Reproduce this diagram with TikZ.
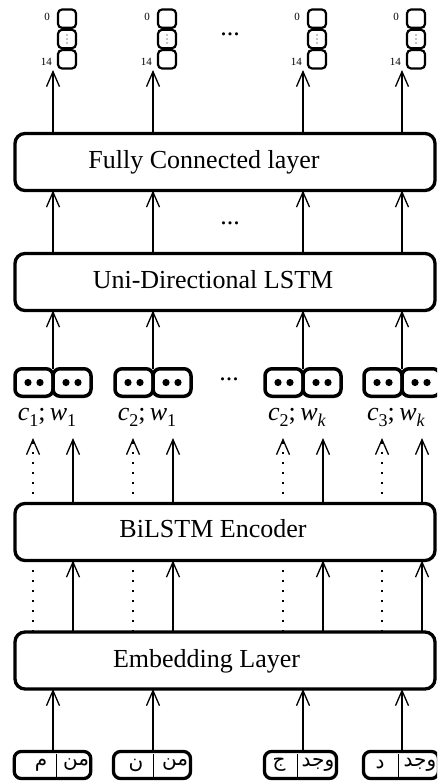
\documentclass[tikz,border=0pt]{standalone}
\usepackage{fontspec}
\setmainfont{Liberation Serif}
\newfontfamily\arabicfont[Script=Arabic]{DejaVu Sans}
\TeXXeTstate=1
\usetikzlibrary{arrows.meta}
\newcommand{\lowsub}[1]{\raisebox{-0.25em}{\fontsize{18}{20}\selectfont #1}}
\tikzset{
  layer/.style={draw, line width=3.3pt, rounded corners=10pt, minimum width=420pt, minimum height=57pt, inner sep=0pt, outer sep=0pt},
  layertext/.style={anchor=base, inner sep=0pt, font=\fontsize{26}{30}\selectfont},
  obox/.style={draw, line width=2.2pt, rounded corners=4pt, minimum width=18pt, minimum height=18.3pt, inner sep=0pt, outer sep=0pt},
  olabel/.style={anchor=east, inner sep=0pt, font=\fontsize{11}{13}\selectfont},
  pbox/.style={draw, line width=3.5pt, rounded corners=7pt, minimum width=38pt, minimum height=27.5pt, inner sep=0pt, outer sep=0pt},
  ibox/.style={draw, line width=3.3pt, rounded corners=7pt, minimum height=27pt, inner sep=0pt, outer sep=0pt},
  itext/.style={inner sep=0pt, font=\arabicfont\fontsize{20}{22}\selectfont},
  cwlabel/.style={anchor=base, inner sep=0pt, font=\fontsize{26}{30}\selectfont},
  arr/.style={line width=1.3pt, -{Straight Barb[length=15pt,width=13pt,line width=1.3pt]}},
  dotarr/.style={line width=1.8pt, dash pattern=on 2pt off 8pt, -{Straight Barb[length=15pt,width=13pt,line width=1.3pt]}},
  dotline/.style={line width=1.8pt, dash pattern=on 2pt off 8pt},
  divider/.style={line width=0.8pt},
  ell/.style={inner sep=0pt, font=\fontsize{26}{30}\selectfont}
}
\begin{document}
\begin{tikzpicture}[x=1pt,y=-1pt]
\clip (0,0) rectangle (437,784);
% layers
\node[layer] (fc) at (225,162) {};
\node[layertext] (fct) at (204,168) {Fully Connected layer};
\node[layer] (lstm) at (225,282) {};
\node[layertext] (lstmt) at (213,288.5) {Uni-Directional LSTM};
\node[layer] (bil) at (225,532) {};
\node[layertext] (bilt) at (213,537) {BiLSTM Encoder};
\node[layer] (emb) at (225,660.5) {};
\node[layertext] (embt) at (206.5,667) {Embedding Layer};
% ellipses
\node[ell] (e1) at (230,34) {...};
\node[ell] (e2) at (230,223) {...};
\node[ell] (e3) at (229,379) {...};
% columns
\foreach \n/\c/\cl in {A/53/{\textit{c}\lowsub{1};\,\textit{w}\lowsub{1}},B/153/{\textit{c}\lowsub{2};\,\textit{w}\lowsub{1}},C/303/{\textit{c}\lowsub{2};\,\textit{w}\lowsub{\textit{k}}},D/402/{\textit{c}\lowsub{3};\,\textit{w}\lowsub{\textit{k}}}}{
  \coordinate (col\n) at (\c,0);
  \coordinate (L\n) at (\c-20,0);
  \coordinate (R\n) at (\c+20,0);
  % output vector
  \node[obox] (o\n1) at (\c+14,18.7) {};
  \node[obox] (o\n2) at (\c+14,39) {};
  \node[obox] (o\n3) at (\c+14,59.3) {};
  \foreach \dy in {-4,0,4} \fill (o\n2.center) ++(0,\dy) circle[radius=0.6pt];
  \node[olabel] (z\n) at (\c-3,16.7) {0};
  \node[olabel] (f\n) at (\c-1,61.5) {14};
  \coordinate (t\n) at (\c,70);
  \draw[arr] (fc.north -| col\n) -- (t\n);
  \draw[arr] (lstm.north -| col\n) -- (fc.south -| col\n);
  % pair
  \node[pbox] (pL\n) at (\c-19,382.5) {};
  \node[pbox] (pR\n) at (\c+19,382.5) {};
  \fill (pL\n.center) ++(-6,0) circle[radius=3.6pt] ++(12,0) circle[radius=3.6pt];
  \fill (pR\n.center) ++(-6,0) circle[radius=3.6pt] ++(12,0) circle[radius=3.6pt];
  \draw[arr] (pL\n.north east) -- (lstm.south -| col\n);
  \node[cwlabel] (cw\n) at (\c-6,420) {\cl};
  % bilstm arrows
  \coordinate (ta\n) at (\c+20,438);
  \coordinate (td\n) at (\c-20,438);
  \draw[arr] (bil.north -| R\n) -- (ta\n);
  \draw[dotarr] (bil.north -| L\n) -- (td\n);
  \draw[arr] (emb.north -| R\n) -- (bil.south -| R\n);
  \draw[dotline] (emb.north -| L\n) -- (bil.south -| L\n);
}
% inputs
\node[ibox, minimum width=76.5pt] (in1) at (52.5,765) {};
\node[ibox, minimum width=77pt] (in2) at (152,765) {};
\node[ibox, minimum width=72pt] (in3) at (300.5,765) {};
\node[ibox, minimum width=75pt] (in4) at (401,765) {};
\draw[divider] (56,754) -- (56,777);
\draw[divider] (153,754) -- (153,777);
\draw[divider] (297,754) -- (297,777);
\draw[divider] (398,754) -- (398,777);
\node[itext] (a1) at (41,765) {\beginR م\endR};
\node[itext] (b1) at (76,765) {\beginR من\endR};
\node[itext] (a2) at (136,765) {\beginR ن\endR};
\node[itext] (b2) at (175,765) {\beginR من\endR};
\node[itext] (a3) at (279,765) {\beginR ج\endR};
\node[itext] (b3) at (318,765) {\beginR وجد\endR};
\node[itext] (a4) at (380,765) {\beginR د\endR};
\node[itext] (b4) at (420,765) {\beginR وجد\endR};
\draw[arr] (in1.north -| colA) -- (emb.south -| colA);
\draw[arr] (in2.north -| colB) -- (emb.south -| colB);
\draw[arr] (in3.north -| colC) -- (emb.south -| colC);
\draw[arr] (in4.north -| colD) -- (emb.south -| colD);
\end{tikzpicture}
\end{document}
